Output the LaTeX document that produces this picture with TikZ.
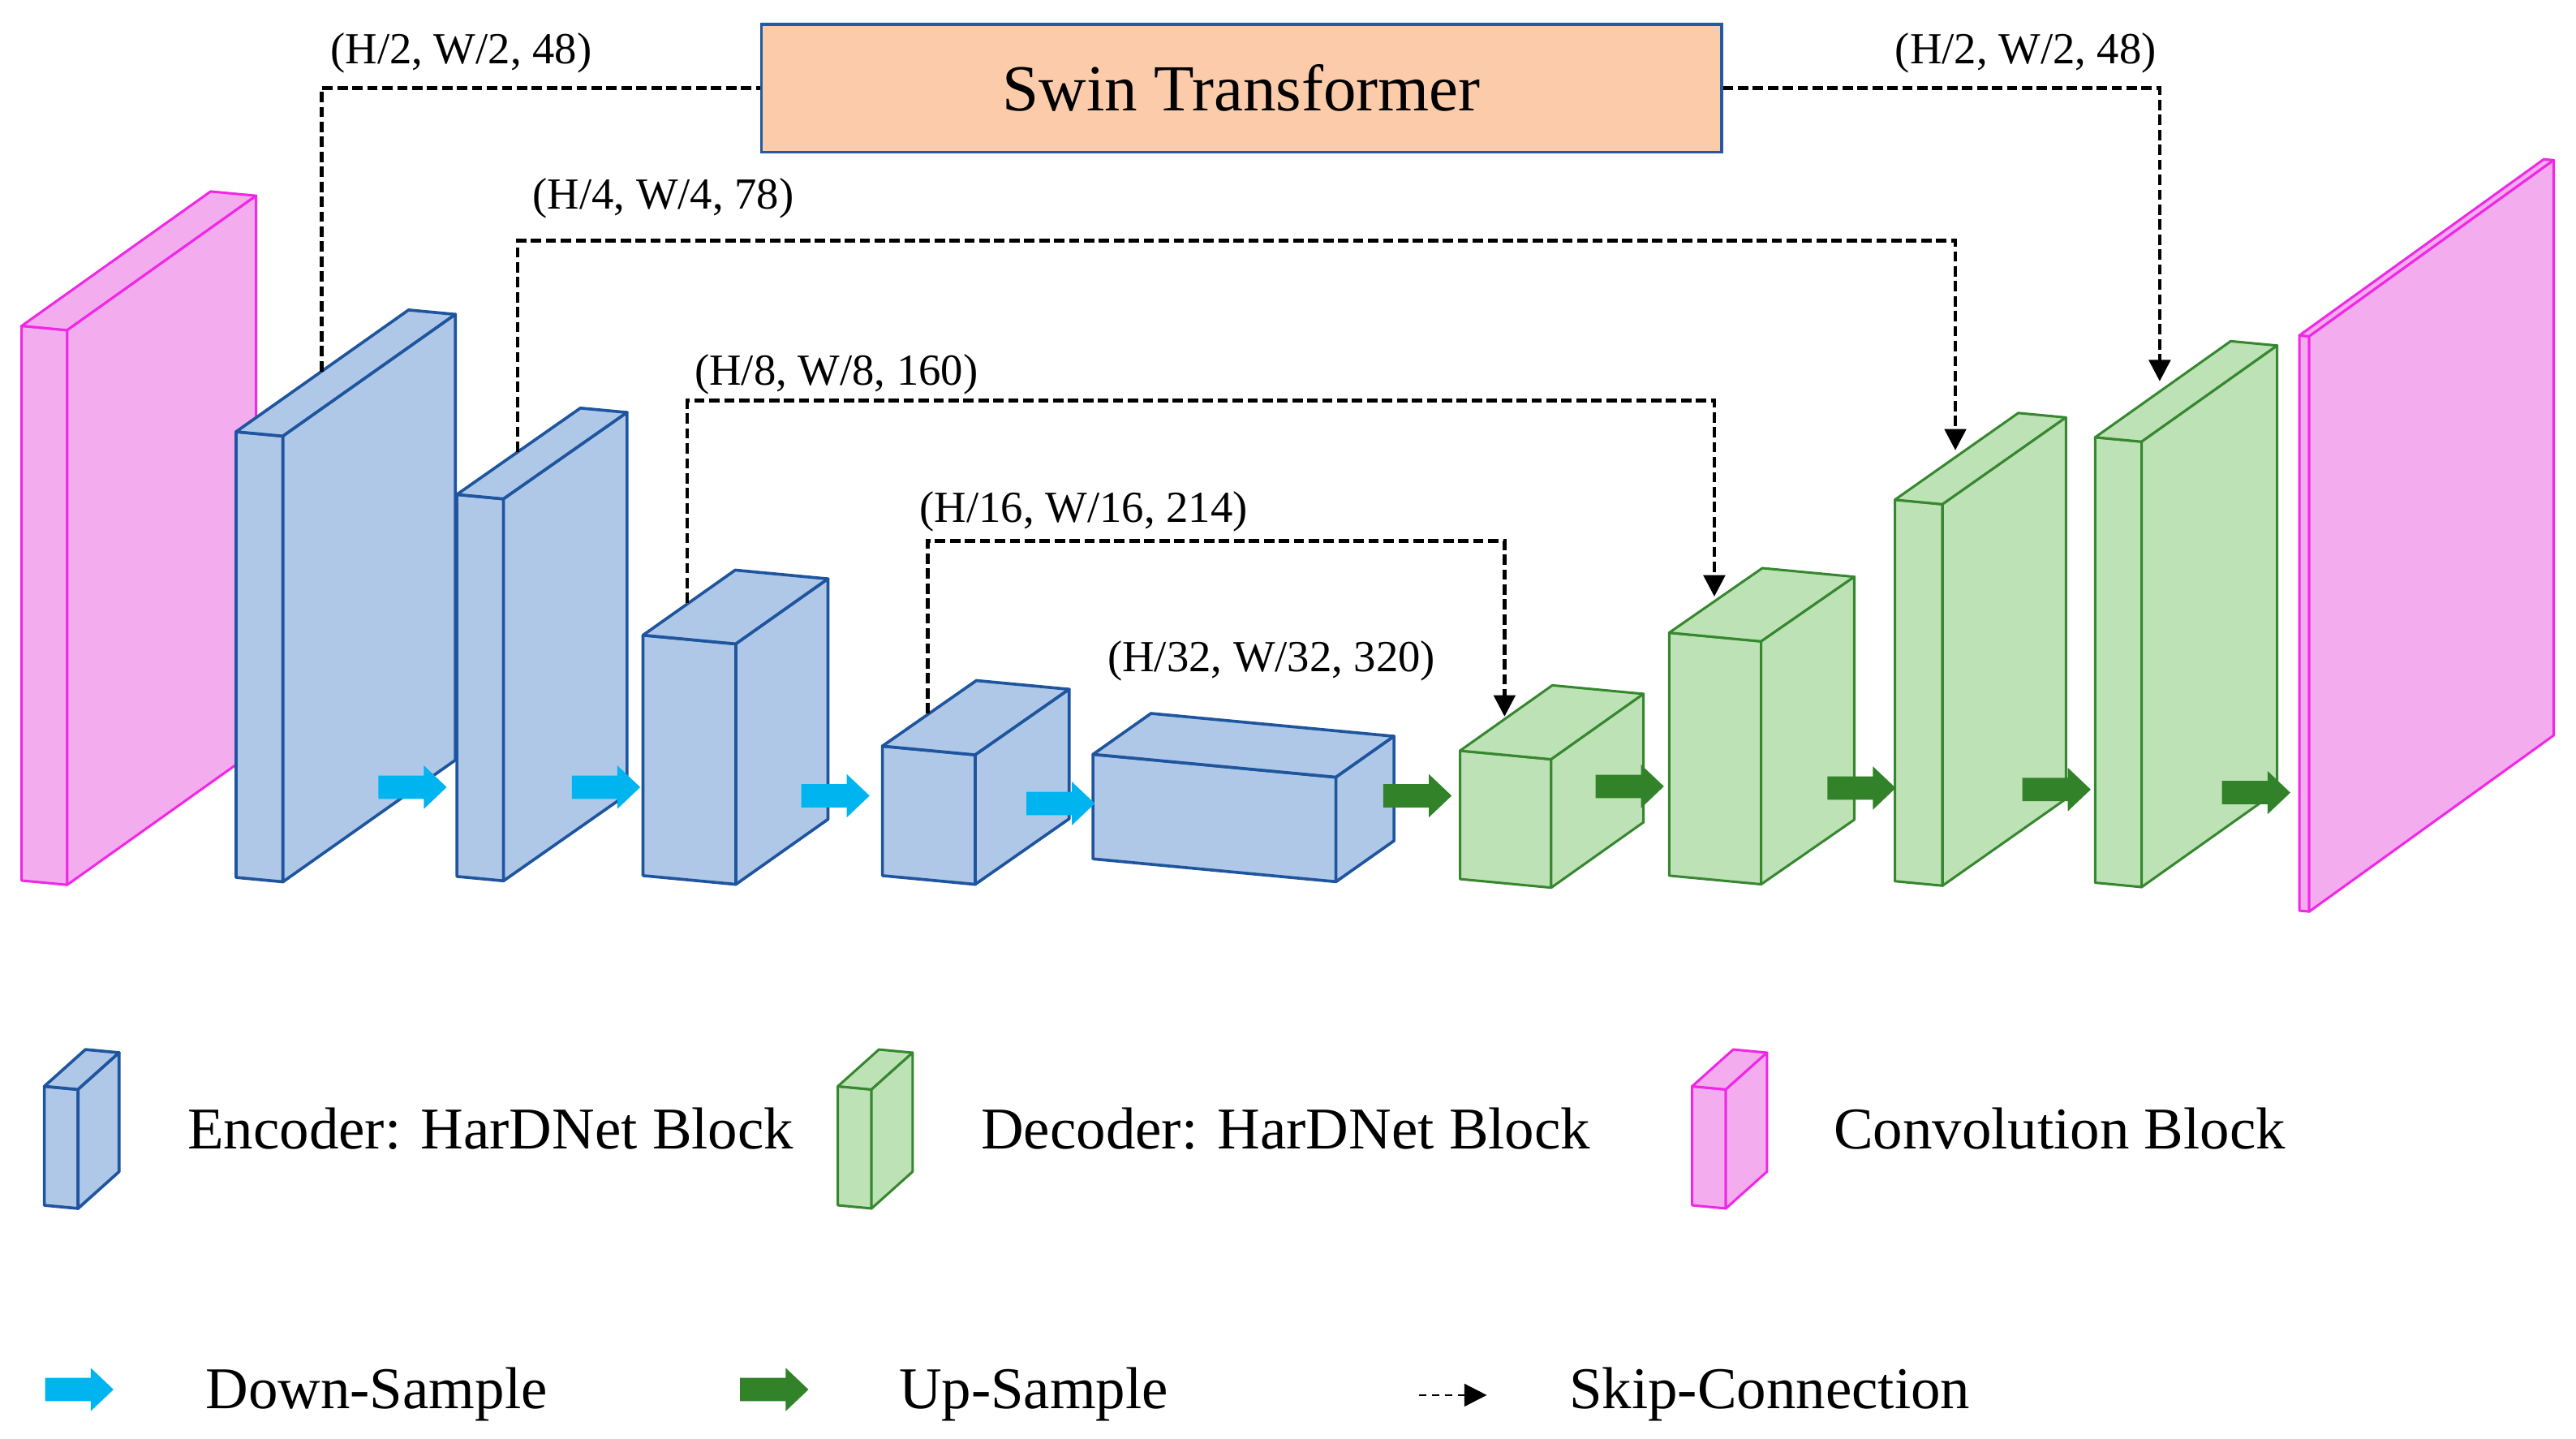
\documentclass[tikz,border=0pt]{standalone}
\usepackage{fontspec}
\setmainfont{Liberation Serif}
\usetikzlibrary{arrows.meta}
\definecolor{encfill}{RGB}{175,200,232}
\definecolor{encdraw}{RGB}{30,85,158}
\definecolor{decfill}{RGB}{189,226,181}
\definecolor{decdraw}{RGB}{55,135,48}
\definecolor{convfill}{RGB}{243,173,238}
\definecolor{convdraw}{RGB}{240,40,230}
\definecolor{downc}{RGB}{0,180,240}
\definecolor{upc}{RGB}{49,130,41}
\definecolor{swinfill}{RGB}{252,204,170}
\definecolor{swindraw}{RGB}{36,90,160}
% cuboid: x0, ytop, ybot, width, depth dx, depth dy, style
\newcommand{\cubo}[7]{%
  \pgfmathsetmacro{\cxa}{#1}%
  \pgfmathsetmacro{\cxb}{#1+#4}%
  \pgfmathsetmacro{\csl}{0.094*#4}%
  \pgfmathsetmacro{\cyt}{#2}%
  \pgfmathsetmacro{\cyb}{#3}%
  \pgfmathsetmacro{\cytr}{#2+\csl}%
  \pgfmathsetmacro{\cybr}{#3+\csl}%
  \pgfmathsetmacro{\cxd}{#1+#5}%
  \pgfmathsetmacro{\cxe}{#1+#4+#5}%
  \pgfmathsetmacro{\cytd}{#2+#6}%
  \pgfmathsetmacro{\cytrd}{#2+\csl+#6}%
  \pgfmathsetmacro{\cybrd}{#3+\csl+#6}%
  \begin{scope}[#7]
  \filldraw (\cxa,\cyb) -- (\cxb,\cybr) -- (\cxb,\cytr) -- (\cxa,\cyt) -- cycle;
  \filldraw (\cxa,\cyt) -- (\cxb,\cytr) -- (\cxe,\cytrd) -- (\cxd,\cytd) -- cycle;
  \filldraw (\cxb,\cybr) -- (\cxe,\cybrd) -- (\cxe,\cytrd) -- (\cxb,\cytr) -- cycle;
  \end{scope}}
% block arrow: x0, ycentre, colour
\newcommand{\barr}[3]{%
  \fill[#3] (#1,#2-7.1) -- (#1+27.7,#2-7.1) -- (#1+27.7,#2-13.2) -- (#1+41.6,#2)
    -- (#1+27.7,#2+13.2) -- (#1+27.7,#2+7.1) -- (#1,#2+7.1) -- cycle;}
\tikzset{
  enc/.style={fill=encfill, draw=encdraw, line width=1.8pt, line join=round},
  dec/.style={fill=decfill, draw=decdraw, line width=1.5pt, line join=round},
  conv/.style={fill=convfill, draw=convdraw, line width=1.5pt, line join=round},
  skip/.style={draw=black, line width=2.2pt, dash pattern=on 6.3pt off 2.8pt},
  skiptip/.style={-{Triangle[length=13pt,width=13pt]}},
  dimlab/.style={inner sep=0pt, anchor=base west, font=\fontsize{27}{30}\selectfont},
  leglab/.style={inner sep=0pt, anchor=base west, font=\fontsize{36}{40}\selectfont},
  swinbox/.style={draw=swindraw, fill=swinfill, line width=1.8pt, minimum width=584.3pt,
    minimum height=77.9pt, inner sep=0pt, font=\fontsize{40}{44}\selectfont}
}
\begin{document}
\begin{tikzpicture}[x=1pt,y=-1pt]
\useasboundingbox (0,0) rectangle (1568,875.6);
% ---- blocks ----
\cubo{13.2}{198.3}{535.8}{27.7}{115}{-81.8}{conv}
\cubo{143.7}{262.7}{533.9}{28.5}{105}{-74.1}{enc}
\cubo{278.1}{300.9}{533.3}{28.4}{75.2}{-52.6}{enc}
\cubo{391.4}{386.5}{532.8}{56.5}{56.1}{-39.6}{enc}
\cubo{537.1}{454}{532.8}{56.5}{57.2}{-39.9}{enc}
\cubo{665.3}{459}{522.6}{147.9}{35.3}{-24.9}{enc}
\cubo{888.7}{456.8}{534.9}{55.5}{56.2}{-39.8}{dec}
\cubo{1016}{385}{532.8}{56}{56.7}{-39.3}{dec}
\cubo{1153.4}{304.1}{536.2}{29}{75.1}{-52.8}{dec}
\cubo{1275.3}{266.1}{537.1}{28.3}{82.5}{-58.5}{dec}
\cubo{1399.6}{204.1}{554.1}{6}{148.8}{-107.2}{conv}
% ---- sampling arrows ----
\barr{230.3}{479}{downc}
\barr{348.1}{479}{downc}
\barr{487.7}{484.2}{downc}
\barr{624.8}{488.9}{downc}
\barr{842}{484.2}{upc}
\barr{971.2}{478.5}{upc}
\barr{1112.3}{479.5}{upc}
\barr{1231}{480.4}{upc}
\barr{1352.5}{482.3}{upc}
% ---- swin transformer ----
\node[swinbox] (swin) at (755.65,53.65) {Swin Transformer};
% ---- skip connections ----
\coordinate (k1a) at (195.7,226);
\coordinate (k1b) at (1314.6,232);
\coordinate (k2a) at (315.2,275);
\coordinate (k2t) at (315.2,146.4);
\coordinate (k2b) at (1190.2,274);
\coordinate (k3a) at (418.4,367);
\coordinate (k3t) at (418.4,243.8);
\coordinate (k3b) at (1043.5,363);
\coordinate (k4a) at (564.8,434.1);
\coordinate (k4t) at (564.8,329.2);
\coordinate (k4b) at (915.8,436);
\draw[skip] (k1a) |- (swin.west);
\draw[skip,skiptip] (swin.east) -| (k1b);
\draw[skip,skiptip] (k2a) -- (k2t) -| (k2b);
\draw[skip,skiptip] (k3a) -- (k3t) -| (k3b);
\draw[skip,skiptip] (k4a) -- (k4t) -| (k4b);
% ---- dimension labels ----
\node[dimlab] (l1) at (201,38.7) {(H/2, W/2, 48)};
\node[dimlab] (l2) at (1153.4,38.7) {(H/2, W/2, 48)};
\node[dimlab] (l3) at (324,127.2) {(H/4, W/4, 78)};
\node[dimlab] (l4) at (422.6,234.2) {(H/8, W/8, 160)};
\node[dimlab] (l5) at (559.7,317.8) {(H/16, W/16, 214)};
\node[dimlab] (l6) at (674,408.5) {(H/32, W/32, 320)};
% ---- legend ----
\cubo{27}{661}{733.4}{20.5}{25}{-22.4}{enc}
\cubo{510}{661}{733.4}{20.5}{25}{-22.4}{dec}
\cubo{1030}{661}{733.4}{20.5}{25}{-22.4}{conv}
\node[leglab] (t1) at (114,698.8) {Encoder: HarDNet Block};
\node[leglab] (t2) at (597,698.8) {Decoder: HarDNet Block};
\node[leglab] (t3) at (1116,698.8) {Convolution Block};
\barr{27.5}{845.5}{downc}
\barr{450.5}{845.5}{upc}
\coordinate (sk1) at (863.7,848.9);
\coordinate (sk2) at (905,848.9);
\draw[line width=1.3pt, dash pattern=on 4.4pt off 3.5pt, -{Triangle[length=13.7pt,width=13.7pt]}] (sk1) -- (sk2);
\node[leglab] (t4) at (125,857) {Down-Sample};
\node[leglab] (t5) at (547,857) {Up-Sample};
\node[leglab] (t6) at (955,857) {Skip-Connection};
\end{tikzpicture}
\end{document}
